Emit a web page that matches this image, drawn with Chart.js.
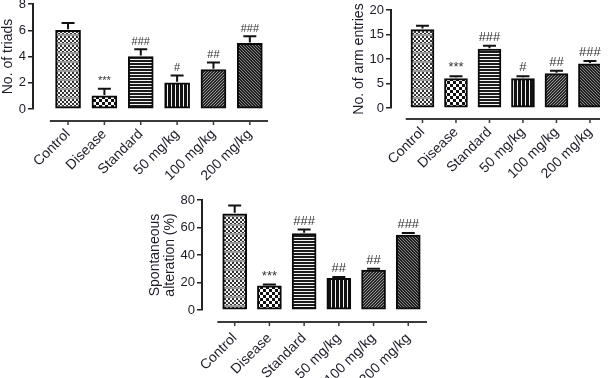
<!DOCTYPE html>
<html><head><meta charset="utf-8">
<script src="https://cdn.jsdelivr.net/npm/chart.js@4/dist/chart.umd.min.js"></script>
<style>
html,body{margin:0;padding:0;background:#fff;}
body{width:608px;height:378px;position:relative;overflow:hidden;}
canvas{position:absolute;}
</style></head><body>
<canvas id="c1" width="280" height="190" style="left:0;top:0"></canvas>
<canvas id="c2" width="278" height="190" style="left:330px;top:0"></canvas>
<canvas id="c3" width="300" height="188" style="left:140px;top:190px"></canvas>
<script>
// ---------- data ----------
const categories = ['Control', 'Disease', 'Standard', '50 mg/kg', '100 mg/kg', '200 mg/kg'];

const triadsMean = [6, 1, 4, 2, 3, 5];
const triadsSem  = [0.55, 0.55, 0.55, 0.55, 0.55, 0.55];
const triadsMarks = ['', '***', '###', '#', '##', '###'];
const triadsTicks = [0, 2, 4, 6, 8];

const armMean = [16, 6, 12, 6, 7, 9];
const armSem  = [0.8, 0.5, 0.7, 0.5, 0.6, 0.6];
const armMarks = ['', '***', '###', '#', '##', '###'];
const armTicks = [0, 5, 10, 15, 20];

const altMean = [70, 17.5, 55.5, 23, 29, 54.5];
const altSem  = [6, 1, 3, 1, 1, 1.5];
const altMarks = ['', '***', '###', '##', '##', '###'];
const altTicks = [0, 20, 40, 60, 80];

// ---------- patterns ----------
function tile(w, h, fn) {
  const c = document.createElement('canvas'); c.width = w; c.height = h;
  const g = c.getContext('2d');
  for (let y = 0; y < h; y++) for (let x = 0; x < w; x++) { g.fillStyle = fn(x, y); g.fillRect(x, y, 1, 1); }
  return g.createPattern(c, 'repeat');
}
function makePatterns() {
  return [
    tile(4, 9, (x, y) => y >= 7 ? '#9a9a9a' : (((x >> 1) + (y >> 1)) % 2 ? '#f2f2f2' : '#333')),
    tile(6, 6, (x, y) => ((Math.floor(x / 3) + Math.floor(y / 3)) % 2 ? '#fff' : '#111')),
    tile(1, 3, (x, y) => y === 2 ? '#f4f4f4' : '#1c1c1c'),
    tile(4, 1, (x) => x === 3 ? '#f4f4f4' : '#111'),
    tile(3, 3, (x, y) => { const d = (x + y) % 3; return d === 0 ? '#9a9a9a' : '#262626'; }),
    tile(3, 3, (x, y) => { const d = (x - y + 6) % 3; return d === 0 ? '#8a8a8a' : '#1e1e1e'; })
  ];
}

const FONT = "'Liberation Sans', Arial, sans-serif";
const TXT = '#1c1c28';

function prismPlugin(sem, marks, st) {
  return {
    id: 'prism',
    afterDatasetsDraw(chart) {
      const { ctx, chartArea, scales: { x, y } } = chart;
      const data = chart.data.datasets[0].data;
      ctx.save();
      ctx.strokeStyle = '#111'; ctx.lineWidth = 2;
      ctx.fillStyle = '#333';
      ctx.font = st.markFont + 'px ' + FONT;
      ctx.textAlign = 'center'; ctx.textBaseline = 'bottom';
      data.forEach((d, i) => {
        const px = x.getPixelForValue(d.x);
        const y0 = y.getPixelForValue(d.y);
        const y1 = y.getPixelForValue(d.y + sem[i]);
        ctx.beginPath();
        ctx.moveTo(px, y0 - 1); ctx.lineTo(px, y1);
        ctx.moveTo(px - st.cap, y1); ctx.lineTo(px + st.cap, y1);
        ctx.stroke();
        if (marks[i]) ctx.fillText(marks[i], px, y1 - 2);
      });
      const ly = chartArea.bottom + st.axisGap;
      ctx.strokeStyle = '#3a3a3a'; ctx.lineWidth = 2;
      ctx.beginPath();
      ctx.moveTo(x.getPixelForValue(-0.5), ly); ctx.lineTo(chartArea.right, ly);
      ctx.stroke();
      ctx.lineWidth = 1.5;
      ctx.beginPath();
      categories.forEach((c, i) => { const px = x.getPixelForValue(i); ctx.moveTo(px, ly); ctx.lineTo(px, ly + 4); });
      ctx.stroke();
      ctx.restore();
    }
  };
}

function panel(id, mean, sem, marks, yTicks, title, st) {
  const ctx = document.getElementById(id).getContext('2d');
  return new Chart(ctx, {
    type: 'bar',
    data: {
      datasets: [{
        data: mean.map((v, i) => ({ x: i, y: v })),
        backgroundColor: makePatterns(),
        borderColor: '#0a0a0a',
        borderWidth: 2,
        borderSkipped: false,
        barThickness: st.barW
      }]
    },
    options: {
      responsive: false, animation: false, devicePixelRatio: 1,
      layout: { padding: st.pad },
      plugins: { legend: { display: false }, tooltip: { enabled: false } },
      scales: {
        x: {
          type: 'linear', min: st.xMin, max: st.xMax, offset: false,
          grid: { display: false, drawTicks: false, offset: false },
          border: { display: false },
          afterBuildTicks: s => { s.ticks = categories.map((c, i) => ({ value: i })); },
          ticks: {
            autoSkip: false, minRotation: 45, maxRotation: 45, padding: st.labelPad,
            color: TXT, font: { family: FONT, size: st.labelFont },
            callback: v => categories[v] ?? ''
          },
          afterFit: s => { s.height = st.xH; s.paddingLeft = 0; s.paddingRight = 0; }
        },
        y: {
          min: yTicks[0], max: yTicks[yTicks.length - 1],
          afterBuildTicks: s => { s.ticks = yTicks.map(v => ({ value: v })); },
          grid: { drawOnChartArea: false, drawTicks: true, tickLength: 5, color: '#222', lineWidth: 1.5 },
          border: { color: '#222', width: 2 },
          ticks: { padding: 2, color: TXT, font: { family: FONT, size: st.tickFont } },
          title: { display: true, text: title, color: TXT, font: { family: FONT, size: st.labelFont, lineHeight: 1.1 }, padding: { top: st.titlePad, bottom: 0 } },
          afterFit: s => { s.width = st.yW; s.paddingTop = 0; s.paddingBottom = 0; }
        }
      }
    },
    plugins: [prismPlugin(sem, marks, st)]
  });
}

panel('c1', triadsMean, triadsSem, triadsMarks, triadsTicks, 'No. of triads', {
  xMin: -0.964, xMax: 5.5, barW: 25, yW: 33, xH: 81, pad: { left: 0, top: 4, right: 12, bottom: 0 },
  axisGap: 12, labelPad: 17, labelFont: 14, tickFont: 13, markFont: 11, cap: 6.5, titlePad: 0
});
panel('c2', armMean, armSem, armMarks, armTicks, 'No. of arm entries', {
  xMin: -0.94, xMax: 5.3, barW: 23, yW: 61, xH: 82, pad: { left: 0, top: 10, right: 8, bottom: 0 },
  axisGap: 11, labelPad: 16, labelFont: 14, tickFont: 13, markFont: 13, cap: 6.5, titlePad: 21
});
panel('c3', altMean, altSem, altMarks, altTicks, ['Spontaneous', 'alteration (%)'], {
  xMin: -0.942, xMax: 5.54, barW: 24, yW: 62, xH: 68, pad: { left: 0, top: 10, right: 13, bottom: 0 },
  axisGap: 12, labelPad: 20, labelFont: 14, tickFont: 13, markFont: 13, cap: 6.5, titlePad: 7
});
</script>
</body></html>
